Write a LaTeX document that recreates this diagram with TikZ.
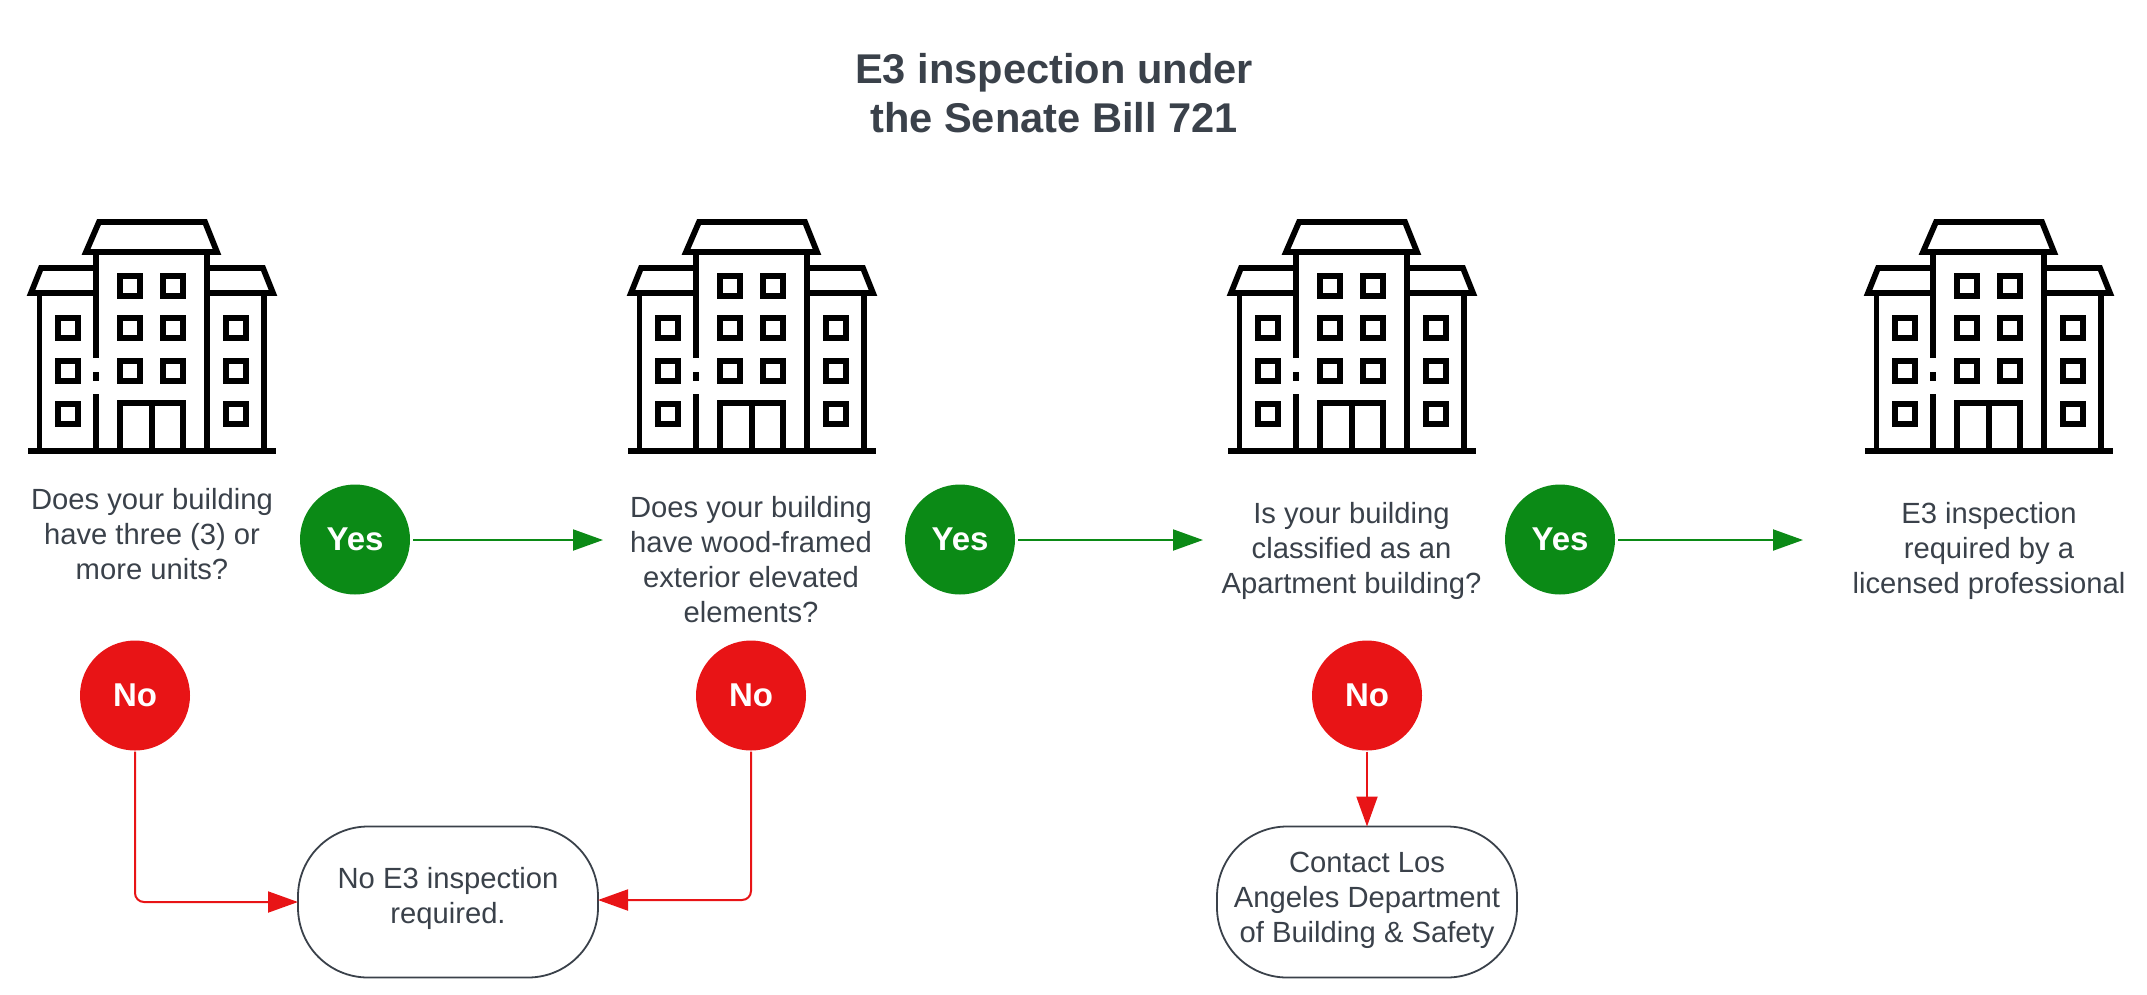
\documentclass[tikz,border=0pt]{standalone}
\usepackage{fontspec}
\setmainfont{Liberation Sans}
\usetikzlibrary{arrows.meta}
\definecolor{inkgrey}{HTML}{3A414A}
\definecolor{yesgreen}{HTML}{0B8A16}
\definecolor{nored}{HTML}{E81416}
\tikzset{
  every node/.style={inner sep=0pt, outer sep=0pt, text=inkgrey},
  heading/.style={align=center, font=\fontsize{41.6}{49}\selectfont\bfseries},
  question/.style={align=center, font=\fontsize{29.2}{35}\selectfont},
  badge/.style={circle, minimum size=110pt, text=white, font=\fontsize{33}{38}\selectfont\bfseries},
  yesbadge/.style={badge, fill=yesgreen},
  nobadge/.style={badge, fill=nored},
  outcome/.style={question, draw=inkgrey, line width=1.8pt, fill=white, rounded corners=70pt,
    minimum width=300pt, minimum height=151pt},
  yesflow/.style={draw=yesgreen, line width=2pt, -{Triangle[length=30pt,width=21pt]}},
  noflow/.style={draw=nored, line width=2pt, rounded corners=9pt, -{Triangle[length=30pt,width=21pt]}},
  building/.pic={
    \begin{scope}[line width=5.8pt, draw=black, miter limit=10]
      % roofs
      \draw (86,252) -- (99,222) -- (205,222) -- (217,252) -- cycle;
      \draw (96,268) -- (41,268) -- (31,293) -- (96,293);
      \draw (207,268) -- (263,268) -- (273,293) -- (207,293);
      % walls, the left tower wall is broken by a dot
      \draw (96,252) -- (96,358);
      \draw (96,372) -- (96,381);
      \draw (96,394) -- (96,451);
      \draw (207,252) -- (207,451);
      \draw (39.5,293) -- (39.5,451);
      \draw (264,293) -- (264,451);
      % ground line
      \draw (28,451) -- (276,451);
      % door
      \draw (120,451) -- (120,403) -- (183,403) -- (183,451);
      \draw (152,403) -- (152,451);
      % windows
      \foreach \wx/\wy in {130/286,173/286,130/328,173/328,130/371,173/371,
                           68/328,68/371,68/414,236/328,236/371,236/414}
        \draw (\wx-10,\wy-10) rectangle (\wx+10,\wy+10);
    \end{scope}
  }
}
\begin{document}
\begin{tikzpicture}[x=1pt,y=-1pt]
  \useasboundingbox (0,0) rectangle (2147,994);

  \node[heading] (title) at (1054,93) {E3 inspection under\\the Senate Bill 721};

  \pic at (0,0) {building};
  \pic at (600,0) {building};
  \pic at (1200,0) {building};
  \pic at (1837,0) {building};

  \node[question] (q1) at (152,534) {Does your building\\have three (3) or\\more units?};
  \node[question] (q2) at (751,560) {Does your building\\have wood-framed\\exterior elevated\\elements?};
  \node[question] (q3) at (1351.5,551) {Is your building\\classified as an\\Apartment building?};
  \node[question] (q4) at (1989,551) {E3 inspection\\required by a\\licensed professional};

  \node[yesbadge] (yes1) at (355,539.5) {Yes};
  \node[yesbadge] (yes2) at (960,539.5) {Yes};
  \node[yesbadge] (yes3) at (1560,539.5) {Yes};

  \node[nobadge] (no1) at (135,695.5) {No};
  \node[nobadge] (no2) at (751,695.5) {No};
  \node[nobadge] (no3) at (1367,695.5) {No};

  % the trailing break lifts the text slightly inside its outline
  \node[outcome] (none) at (448,902) {No E3 inspection\\required.\\[-22pt]};
  \node[outcome] (ladbs) at (1367,902) {Contact Los\\Angeles Department\\of Building \& Safety\\[-26pt]};

  \coordinate (in2) at (603,540);
  \coordinate (in3) at (1203,540);
  \coordinate (in4) at (1803,540);

  \draw[yesflow] (yes1.east |- in2) ++(3,0) -- (in2);
  \draw[yesflow] (yes2.east |- in3) ++(3,0) -- (in3);
  \draw[yesflow] (yes3.east |- in4) ++(3,0) -- (in4);

  \draw[noflow] (no1.south) ++(0,1) |- (none.west);
  \draw[noflow] (no2.south) ++(0,1) |- ([yshift=2pt]none.east);
  \draw[noflow] (no3.south) ++(0,1) -- (ladbs.north);
\end{tikzpicture}
\end{document}
